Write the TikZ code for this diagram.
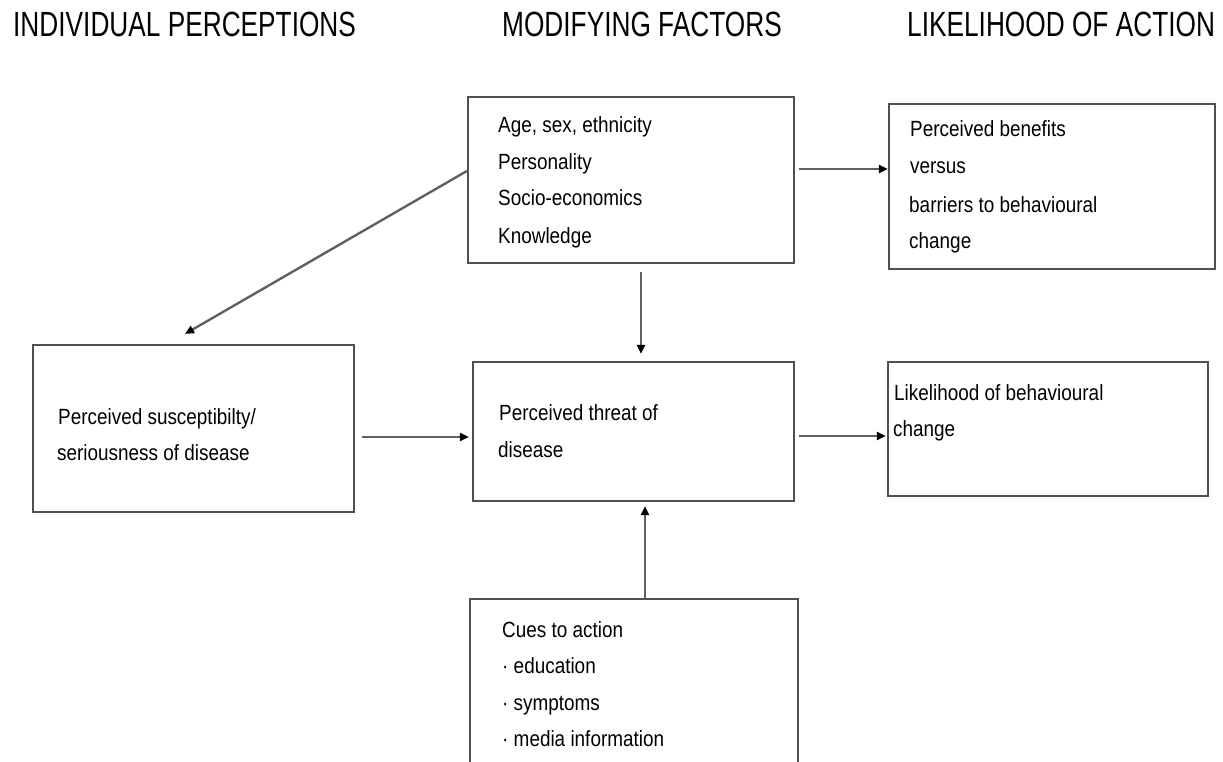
\documentclass[tikz,border=0pt]{standalone}
\usepackage{graphicx}
\usepackage{fontspec}
\setmainfont{Liberation Sans}
\usetikzlibrary{arrows.meta}
\definecolor{boxgray}{HTML}{505050}
\definecolor{linegray}{HTML}{606060}
\newcommand\hdtxt[1]{\scalebox{0.75}[1]{\fontsize{35}{40}\selectfont #1}}
\newcommand\bdtxt[1]{\scalebox{0.86}[1]{\fontsize{22}{26}\selectfont #1}}
\tikzset{
  box/.style={draw=boxgray, line width=2.2pt, rectangle, inner sep=0pt, fill=white},
  lbl/.style={anchor=base west, inner sep=0pt},
  arr/.style={draw=linegray, line width=2.4pt, -{Triangle[length=9pt,width=8pt,color=black]}}
}
\begin{document}
\begin{tikzpicture}[x=1pt,y=-1pt]
\useasboundingbox (0,0) rectangle (1223,762);
\clip (0,0) rectangle (1223,762);
% headings
\node[lbl] (h1) at (13,37) {\hdtxt{INDIVIDUAL PERCEPTIONS}};
\node[lbl] (h2) at (502,37) {\hdtxt{MODIFYING FACTORS}};
\node[lbl] (h3) at (907,37) {\hdtxt{LIKELIHOOD OF ACTION}};
% boxes
\node[box, minimum width=326pt, minimum height=166pt] (mod) at (631,180) {};
\node[box, minimum width=326pt, minimum height=165pt] (ben) at (1052,186.5) {};
\node[box, minimum width=321pt, minimum height=167pt] (sus) at (193.5,428.5) {};
\node[box, minimum width=321pt, minimum height=139pt] (thr) at (633.5,431.5) {};
\node[box, minimum width=320pt, minimum height=134pt] (lik) at (1048,429) {};
\node[box, minimum width=328pt, minimum height=181pt] (cue) at (634,689.5) {};
% texts
\node[lbl] (m1) at (498,133) {\bdtxt{Age, sex, ethnicity}};
\node[lbl] (m2) at (498,170) {\bdtxt{Personality}};
\node[lbl] (m3) at (498,206) {\bdtxt{Socio-economics}};
\node[lbl] (m4) at (498,243) {\bdtxt{Knowledge}};
\node[lbl] (b1) at (910,137) {\bdtxt{Perceived benefits}};
\node[lbl] (b2) at (910,174) {\bdtxt{versus}};
\node[lbl] (b3) at (909,212) {\bdtxt{barriers to behavioural}};
\node[lbl] (b4) at (909,248) {\bdtxt{change}};
\node[lbl] (s1) at (58,424) {\bdtxt{Perceived susceptibilty/}};
\node[lbl] (s2) at (57,460) {\bdtxt{seriousness of disease}};
\node[lbl] (t1) at (499,420) {\bdtxt{Perceived threat of}};
\node[lbl] (t2) at (498,457) {\bdtxt{disease}};
\node[lbl] (l1) at (894,400) {\bdtxt{Likelihood of behavioural}};
\node[lbl] (l2) at (893,436) {\bdtxt{change}};
\node[lbl] (c1) at (502,637) {\bdtxt{Cues to action}};
\node[lbl] (c2) at (502,673) {\bdtxt{· education}};
\node[lbl] (c3) at (502,710) {\bdtxt{· symptoms}};
\node[lbl] (c4) at (502,746) {\bdtxt{· media information}};
% connectors
\draw[arr, shorten <=4pt] ([yshift=11pt]mod.east) -- ([yshift=11pt]mod.east -| ben.west);
\draw[arr] ([yshift=9pt]mod.west) -- ([xshift=-8.5pt,yshift=10pt]sus.north);
\draw[arr, shorten <=8pt, shorten >=7pt] ([xshift=10pt]mod.south) -- ([xshift=10pt]mod.south |- thr.north);
\draw[arr, shorten >=4pt] ([xshift=11pt]cue.north) -- ([xshift=11pt]cue.north |- thr.south);
\draw[arr, shorten <=7pt, shorten >=3pt] ([yshift=-8.5pt]sus.east) -- ([yshift=-8.5pt]sus.east -| thr.west);
\draw[arr, shorten <=4pt, shorten >=1pt] ([yshift=-4.5pt]thr.east) -- ([yshift=-4.5pt]thr.east -| lik.west);
\end{tikzpicture}
\end{document}
